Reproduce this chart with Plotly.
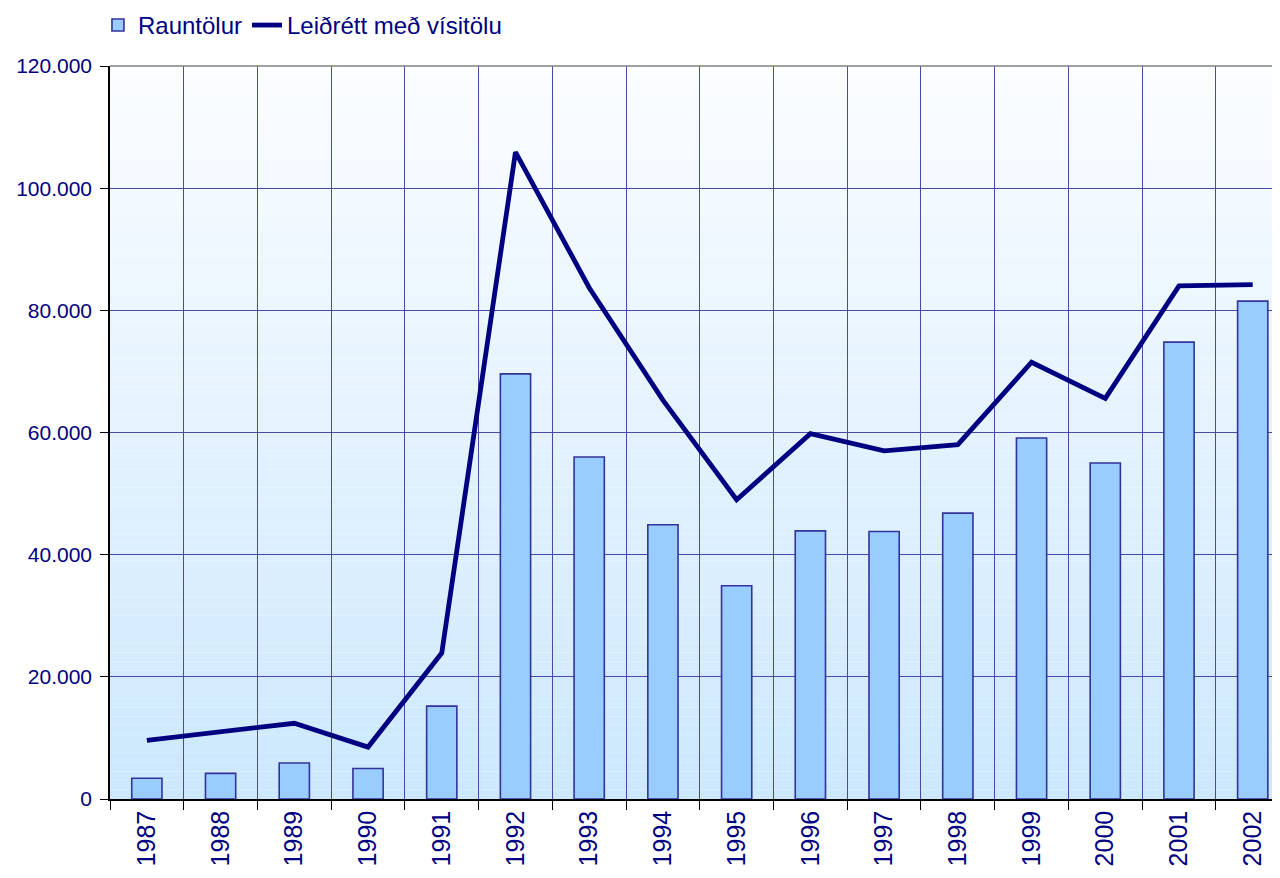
import plotly.graph_objects as go

years = ["1987", "1988", "1989", "1990", "1991", "1992", "1993", "1994",
         "1995", "1996", "1997", "1998", "1999", "2000", "2001", "2002"]
rauntolur = [3400, 4200, 5900, 5000, 15200, 69600, 56000, 44900,
             34900, 43900, 43800, 46800, 59100, 55000, 74800, 81500]
leidrett = [9600, 11000, 12400, 8500, 23900, 105900, 83700, 65300,
            49000, 59800, 57000, 58000, 71500, 65600, 84000, 84200]
y_ticks = [0, 20000, 40000, 60000, 80000, 100000, 120000]

NAVY = "#000080"
FONT = "Liberation Sans, Arial, sans-serif"

fig = go.Figure()
fig.add_trace(go.Bar(
    x=years, y=rauntolur, name="Rauntölur", width=0.41,
    marker=dict(color="#99CCFF", line=dict(color="#333399", width=1.6)),
))
fig.add_trace(go.Scatter(
    x=years, y=leidrett, name="Leiðrétt með vísitölu", mode="lines",
    line=dict(color=NAVY, width=4.8),
))

# vertical gradient background bands
shapes = []
n = 80
top = (251, 253, 255)
bot = (204, 232, 253)
for i in range(n):
    t = i / (n - 1)
    c = tuple(round(bot[k] + (top[k] - bot[k]) * t) for k in range(3))
    shapes.append(dict(type="rect", xref="x domain", yref="y domain",
                       x0=0, x1=1, y0=i / n, y1=(i + 1) / n,
                       fillcolor="rgb(%d,%d,%d)" % c, line=dict(width=0),
                       layer="below"))
shapes.append(dict(type="line", xref="x domain", yref="y domain",
                   x0=0, x1=1, y0=1, y1=1, line=dict(color="#808080", width=1.5)))

fig.update_layout(
    width=1272, height=870,
    margin=dict(l=102, r=0, t=58, b=79, autoexpand=False),
    paper_bgcolor="white", plot_bgcolor="rgba(0,0,0,0)",
    separators=",.",
    font=dict(family=FONT, color=NAVY),
    shapes=shapes,
    showlegend=True,
    legend=dict(orientation="h", x=-0.0103, xanchor="left",
                y=1.086, yanchor="top",
                font=dict(size=24, color=NAVY, family=FONT),
                bgcolor="rgba(0,0,0,0)", itemwidth=30, tracegroupgap=0),
    bargap=0.59,
)
fig.update_xaxes(
    type="category", range=[-0.5, 15.37], tickson="boundaries",
    ticks="outside", ticklen=9, tickcolor="black", tickwidth=1,
    tickangle=-90, tickfont=dict(size=25, color=NAVY, family=FONT),
    showgrid=True, gridcolor="#4a4aa6", gridwidth=1,
    showline=True, linecolor="black", linewidth=1.5,
)
fig.update_yaxes(
    range=[0, 120000], tickvals=y_ticks, tickformat=",d",
    ticks="outside", ticklen=8, tickcolor="black", tickwidth=1,
    ticklabelstandoff=4,
    tickfont=dict(size=21, color=NAVY, family=FONT),
    showgrid=True, gridcolor="#4a4aa6", gridwidth=1,
    showline=True, linecolor="black", linewidth=1.5, zeroline=False,
)

fig.write_html("out.html")
